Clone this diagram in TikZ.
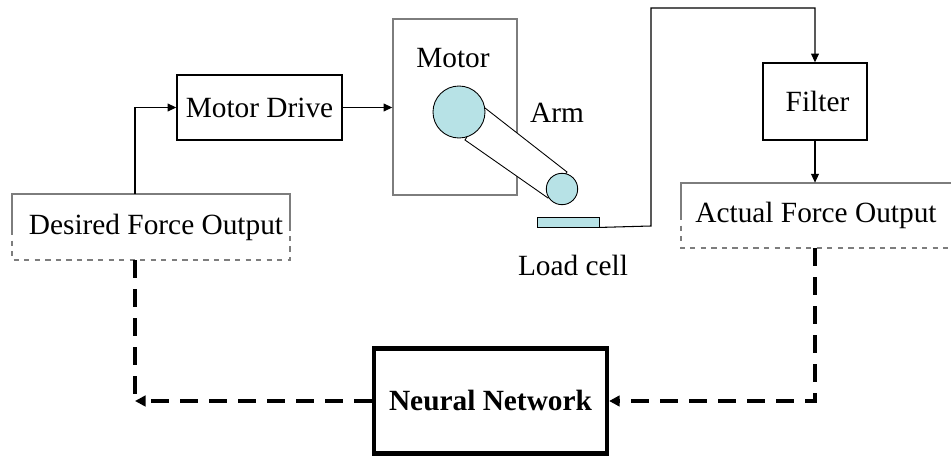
\documentclass[tikz,border=0pt]{standalone}
\usepackage{fontspec}
\setmainfont{Liberation Serif}
\usetikzlibrary{arrows.meta,positioning,calc}
\definecolor{armcyan}{RGB}{183,226,230}
\definecolor{framegray}{RGB}{125,125,125}

\begin{document}
\begin{tikzpicture}[x=0.02cm, y=-0.02cm,
  font=\fontsize{16.7}{19}\selectfont,
  block/.style={draw=black, line width=0.8pt, inner sep=0pt},
  link/.style={draw=black, line width=0.6pt},
  feed/.style={draw=black, line width=2.4pt, dash pattern=on 10pt off 6.5pt},
  tip/.style={-{Triangle[length=5pt,width=4.5pt]}}]

\useasboundingbox (0,0) rectangle (951,462);

% --- Forward path ---
\node[block, minimum width=3.3cm, minimum height=1.3cm] (drive) at (259.5,107.5) {Motor Drive};
\node[draw=framegray, line width=0.8pt, minimum width=2.48cm, minimum height=3.52cm,
      inner sep=0pt] (motor) at (455,107) {};
\node (motorlbl) at (453,58) {Motor};
\node[block, minimum width=2.08cm, minimum height=1.54cm] (filter) at (815,101.5) {\hspace{0.1cm}Filter};

% Desired force output (solid top, dashed lower part)
\node[inner sep=0pt, minimum width=5.56cm, minimum height=1.32cm] (desired) at (151,227) {\hspace{0.2cm}Desired Force Output};
\draw[framegray, line width=0.7pt] (12,230) -- (12,194) -- (290,194) -- (290,230);
\draw[framegray, line width=0.7pt, dashed] (12,230) -- (12,260) -- (290,260) -- (290,230);

% Actual force output, running off the right edge
\node[inner sep=0pt, minimum width=5.38cm, minimum height=1.3cm] (actual) at (816,215.5) {Actual Force Output};
\draw[framegray, line width=0.7pt] (681,215) -- (681,183) -- (951,183);
\draw[framegray, line width=0.7pt, dashed] (681,215) -- (681,248) -- (951,248);

% --- Arm and load cell ---
\draw[black, line width=0.5pt, fill=white] (485,108) -- (567,172) -- (548,198) -- (465,140) -- cycle;
\draw[black, line width=0.5pt, fill=armcyan] (459,112) circle (26);
\draw[black, line width=0.5pt, fill=armcyan] (562,189) circle (15.7);
\node (armlbl) at (557,113) {Arm};
\node[draw=black, line width=0.5pt, fill=armcyan, minimum width=1.24cm, minimum height=0.2cm,
      inner sep=0pt] (cell) at (568,222) {};
\node (celllbl) at (573,265) {Load cell};

% --- Neural network ---
\node[draw=black, line width=2.4pt, minimum width=4.66cm, minimum height=2.1cm,
      font=\fontsize{16.7}{19}\selectfont\bfseries] (nn) at (490.5,401) {Neural Network};

% Connectors
\coordinate (up) at (135,107.5);
\draw[link, tip] (desired.north -| up) -- (up) -- (drive.west);
\draw[link, tip] (drive.east) -- (motor.west |- drive.east);
\coordinate (riseA) at (651,226);
\coordinate (riseB) at (651,8);
\draw[link, tip] (cell.south east) -- (riseA) -- (riseB) -- (riseB -| filter.north) -- (filter.north);
\draw[link, tip] (filter.south) -- (filter.south |- actual.north);

% Training feedback
\coordinate (leftcorner) at (135,401);
\coordinate (rightcorner) at (815,401);
\draw[feed] (desired.south -| leftcorner) -- (leftcorner);
\draw[feed, -{Triangle[length=6pt,width=6pt]}] (nn.west) -- (leftcorner);
\draw[feed, -{Triangle[length=6pt,width=6pt]}] (actual.south -| rightcorner) -- (rightcorner) -- (nn.east);

\end{tikzpicture}
\end{document}
